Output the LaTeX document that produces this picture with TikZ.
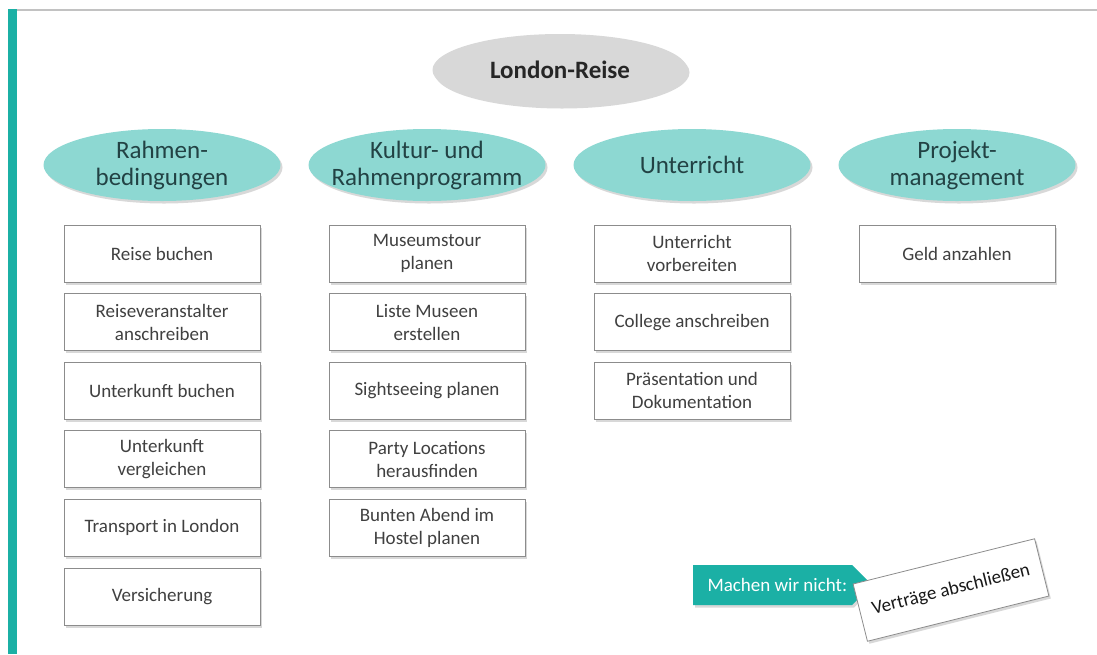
\documentclass[tikz,border=0pt]{standalone}
\usepackage{fontspec}
\setmainfont{Carlito}
\usepackage{tikz}
\usetikzlibrary{shapes.geometric,shadows}

\definecolor{balken}{RGB}{27,176,165}
\definecolor{ovalgruen}{RGB}{141,216,210}
\definecolor{ovaltext}{RGB}{34,66,68}
\definecolor{ovalgrau}{RGB}{216,216,216}
\definecolor{kastentext}{RGB}{64,64,64}
\definecolor{rahmenlinie}{RGB}{194,194,194}

\begin{document}
\begin{tikzpicture}[x=1pt,y=-1pt,
	schatten/.style={drop shadow={shadow xshift=2pt,shadow yshift=-2.5pt,opacity=0.3}},
	thema/.style={ellipse, fill=ovalgruen, minimum width=237pt, minimum height=72pt,
		inner xsep=-15pt, inner ysep=-6pt, align=center, text=ovaltext,
		font=\fontsize{25}{27}\selectfont, schatten},
	task/.style={draw=black!45, line width=0.8pt, fill=white, minimum width=196pt,
		minimum height=57pt, inner sep=2pt, align=center, text=kastentext,
		font=\fontsize{19}{23}\selectfont, schatten}]
		\useasboundingbox (0,0) rectangle (1097,654);
		\fill[white] (0,0) rectangle (1097,654);
		% Rahmen der Folie
		\fill[rahmenlinie] (9,9) rectangle (1097,11);
		\fill[balken] (8,9) rectangle (17,654);
		% Wurzel und Themen
		\node[ellipse, fill=ovalgrau, minimum width=255pt, minimum height=72pt, inner sep=0pt,
			text=black!85, font=\fontsize{25}{27}\selectfont\bfseries, schatten] (london) at (560,70) {London-Reise};
		\node[thema] (rahmen) at (162,165) {Rahmen-\\bedingungen};
		\node[thema] (kultur) at (427,165) {Kultur- und\\Rahmenprogramm};
		\node[thema] (unterricht) at (692,165) {Unterricht};
		\node[thema] (projekt) at (957,165) {Projekt-\\management};
		% Arbeitspakete
		\foreach \txt [count=\i] in {Reise buchen,{Reiseveranstalter\\anschreiben},Unterkunft buchen,{Unterkunft\\vergleichen},Transport in London,Versicherung}
			\node[task] (rahmen\i) at (162,{253.5+68.6*(\i-1)}) {\txt};
		\foreach \txt [count=\i] in {{Museumstour\\planen},{Liste Museen\\erstellen},Sightseeing planen,{Party Locations\\herausfinden},{Bunten Abend im\\Hostel planen}}
			\node[task] (kultur\i) at (427,{253.5+68.6*(\i-1)}) {\txt};
		\foreach \txt [count=\i] in {{Unterricht\\vorbereiten},College anschreiben,{Präsentation und\\Dokumentation}}
			\node[task] (unterricht\i) at (692,{253.5+68.6*(\i-1)}) {\txt};
		\node[task] (projekt1) at (957,253.5) {Geld anzahlen};
		% Machen wir nicht
		\fill[balken, schatten] (693,565) -- (852,565) -- (872,585) -- (852,605) -- (693,605) -- cycle;
		\node[anchor=west, text=white, font=\fontsize{19}{23}\selectfont] (nicht) at (704,585) {Machen wir nicht:};
		\node[task, rotate=14, minimum width=187pt, minimum height=59pt, text=black!90] (vertrag) at (951,590) {Verträge abschließen};
\end{tikzpicture}
\end{document}
